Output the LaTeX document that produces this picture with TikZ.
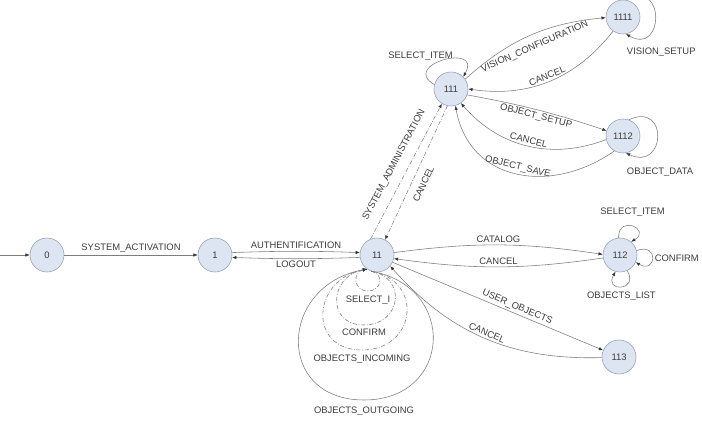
\documentclass[tikz,border=0pt]{standalone}
\usepackage{fontspec}
\setmainfont{Liberation Sans}
\usetikzlibrary{arrows.meta,positioning}
\definecolor{statefill}{RGB}{221,229,242}
\definecolor{stateline}{RGB}{150,160,180}
\definecolor{linegray}{RGB}{125,125,125}
\definecolor{textgray}{RGB}{60,60,60}

\begin{document}
\begin{tikzpicture}[x=0.025cm, y=-0.025cm]
		\tikzstyle{state} = [circle, minimum size=0.85cm, inner sep=0pt, draw=stateline, 
		fill=statefill, text=textgray, font=\fontsize{6.7}{8}\selectfont]
		\tikzstyle{arrow} = [draw=linegray, line width=0.4pt, -{Latex[length=3pt,width=2.4pt,color=black!80]}]
		\tikzstyle{dashline} = [dash pattern=on 3pt off 1.2pt on 0.6pt off 1.2pt]
		\tikzstyle{lbl} = [font=\fontsize{6.7}{8}\selectfont, text=textgray, inner sep=1.5pt]
		\useasboundingbox (0,0) rectangle (702,425);
		\coordinate (entry) at (0,255);
		\node (start) [state] at (47,255) {0};
		\node (activated) [state] at (215,255) {1};
		\node (loggedIn) [state] at (377,255) {11};
		\node (admin) [state] at (451,89) {111};
		\node (vision) [state] at (623,17) {1111};
		\node (objects) [state] at (623,136) {1112};
		\node (catalog) [state] at (620,255) {112};
		\node (userObjects) [state] at (619,357) {113};
		% lowest points of the loops of 11
		\coordinate (selectBottom) at (368,291);
		\coordinate (confirmBottom) at (364,325);
		\coordinate (incomingBottom) at (362,350);
		\coordinate (outgoingBottom) at (364,400);
		\draw [arrow] (entry) -- (start);
		\draw [arrow] (start) -- node[lbl, above] {SYSTEM\_ACTIVATION} (activated);
		\draw [arrow] (activated.8) to[bend left=2] node[lbl, above] {AUTHENTIFICATION} (loggedIn.172);
		\draw [arrow] (loggedIn.188) to[bend left=2] node[lbl, below] {LOGOUT} (activated.352);
		% self loops of 11
		\draw [arrow, dashline] (loggedIn.-110) to[out=-10, in=0, looseness=1.75] (selectBottom) node[lbl, below=2pt] {SELECT\_I}
			to[out=180, in=190, looseness=1.75] (loggedIn.-125);
		\draw [arrow, dashline] (loggedIn.-110) to[out=-10, in=0, looseness=1.75] (confirmBottom) node[lbl, below=1pt] {CONFIRM}
			to[out=180, in=190, looseness=1.75] (loggedIn.-125);
		\draw [arrow, dashline] (loggedIn.-110) to[out=-10, in=0, looseness=1.75] (incomingBottom) node[lbl, below=2pt] {OBJECTS\_INCOMING}
			to[out=180, in=190, looseness=1.75] (loggedIn.-125);
		\draw [arrow] (loggedIn.-110) to[out=-10, in=0, looseness=1.75] (outgoingBottom) node[lbl, below=3pt] {OBJECTS\_OUTGOING}
			to[out=180, in=190, looseness=1.75] (loggedIn.-125);
		% administration
		\draw [arrow, dashline] (loggedIn.112) -- node[lbl, above=5pt, sloped] {SYSTEM\_ADMINISTRATION} (admin.238);
		\draw [arrow, dashline] (admin.258) -- node[lbl, below=4pt, sloped, pos=0.55] {CANCEL} (loggedIn.62);
		\draw [arrow] (admin.165) to[out=150, in=60, min distance=1cm] node[lbl, above=3pt, pos=0.3, xshift=-6pt] {SELECT\_ITEM} (admin.45);
		\draw [arrow] (admin.35) to[bend left=18] node[lbl, below=4pt, sloped] {VISION\_CONFIGURATION} (vision.182);
		\draw [arrow] (vision.235) to[bend left=30] node[lbl, above, sloped] {CANCEL} (admin.0);
		\draw [arrow] (vision.75) to[out=30, in=-30, min distance=1.1cm] node[lbl, at end, anchor=north west, shift={(-1pt,-8pt)}] {VISION\_SETUP} (vision.-80);
		\draw [arrow] (admin.-20) to[bend left=4] node[lbl, below, sloped] {OBJECT\_SETUP} (objects.162);
		\draw [arrow] (objects.192) to[bend left=35] node[lbl, above, sloped] {CANCEL} (admin.-55);
		\draw [arrow] (objects.-120) to[out=215, in=-80, looseness=1.2] node[lbl, above, sloped] {OBJECT\_SAVE} (admin.-75);
		\draw [arrow] (objects.70) to[out=25, in=-25, min distance=1.1cm] node[lbl, at end, anchor=north west, shift={(-1pt,-9pt)}] {OBJECT\_DATA} (objects.-80);
		% catalog and user objects
		\draw [arrow] (loggedIn.8) to[bend left=8] node[lbl, above] {CATALOG} (catalog.178);
		\draw [arrow] (catalog.190) to[bend left=8] node[lbl, above] {CANCEL} (loggedIn.348);
		\draw [arrow] (catalog.95) to[out=90, in=30, min distance=0.6cm] node[lbl, above=5pt] {SELECT\_ITEM} (catalog.50);
		\draw [arrow] (catalog.15) to[out=20, in=-30, min distance=0.6cm] node[lbl, right] {CONFIRM} (catalog.-25);
		\draw [arrow] (catalog.-65) to[out=-60, in=-120, min distance=0.6cm] node[lbl, below=2pt] {OBJECTS\_LIST} (catalog.-105);
		\draw [arrow] (loggedIn.-25) -- node[lbl, above, sloped, pos=0.58] {USER\_OBJECTS} (userObjects.157);
		\draw [arrow] (userObjects.182) to[bend left=25] node[lbl, above, sloped] {CANCEL} (loggedIn.-40);
		\end{tikzpicture}
\end{document}
